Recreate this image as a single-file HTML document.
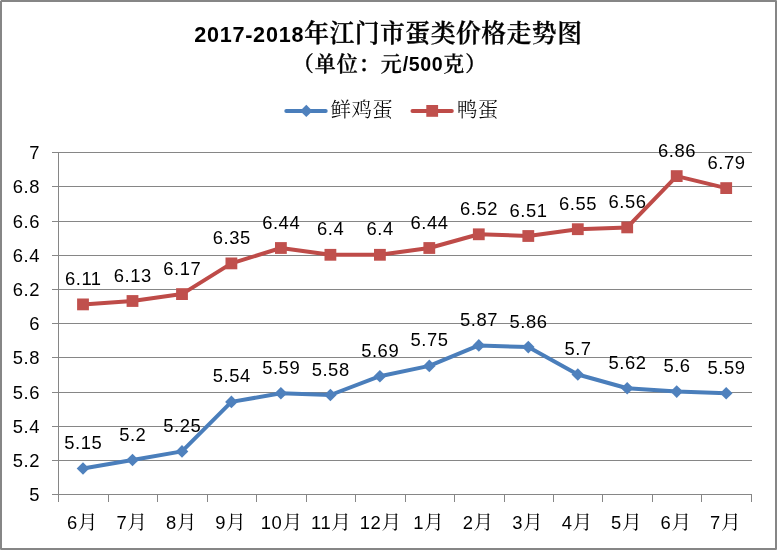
<!DOCTYPE html>
<html lang="zh-CN"><head><meta charset="utf-8"><title>2017-2018年江门市蛋类价格走势图</title>
<style>html,body{margin:0;padding:0;background:#fff;}body{width:777px;height:550px;overflow:hidden;}svg{display:block;}text{fill:#000;}.n{font-family:"Liberation Sans", sans-serif;font-size:18.4px;letter-spacing:0.55px;}.c{font-family:"Liberation Serif","Noto Serif CJK SC","Noto Sans CJK SC",serif;}</style></head><body>
<svg width="777" height="550" viewBox="0 0 777 550">
<rect x="0" y="0" width="777" height="550" fill="#fff"/>
<rect x="1" y="1" width="775" height="548" fill="none" stroke="#868686" stroke-width="2"/>
<rect x="0" y="0" width="1" height="1" fill="#dcdcdc"/><rect x="776" y="0" width="1" height="1" fill="#a8a8a8"/><rect x="0" y="549" width="1" height="1" fill="#a8a8a8"/><rect x="776" y="549" width="1" height="1" fill="#a8a8a8"/>
<g stroke="#868686" stroke-width="1" shape-rendering="crispEdges">
<line x1="52" y1="152.5" x2="752" y2="152.5"/>
<line x1="52" y1="186.5" x2="752" y2="186.5"/>
<line x1="52" y1="221.5" x2="752" y2="221.5"/>
<line x1="52" y1="255.5" x2="752" y2="255.5"/>
<line x1="52" y1="289.5" x2="752" y2="289.5"/>
<line x1="52" y1="323.5" x2="752" y2="323.5"/>
<line x1="52" y1="357.5" x2="752" y2="357.5"/>
<line x1="52" y1="392.5" x2="752" y2="392.5"/>
<line x1="52" y1="426.5" x2="752" y2="426.5"/>
<line x1="52" y1="460.5" x2="752" y2="460.5"/>
<line x1="52" y1="494.5" x2="752" y2="494.5"/>
<line x1="58.5" y1="152" x2="58.5" y2="502"/>
<line x1="108.5" y1="494" x2="108.5" y2="502"/>
<line x1="157.5" y1="494" x2="157.5" y2="502"/>
<line x1="207.5" y1="494" x2="207.5" y2="502"/>
<line x1="256.5" y1="494" x2="256.5" y2="502"/>
<line x1="306.5" y1="494" x2="306.5" y2="502"/>
<line x1="355.5" y1="494" x2="355.5" y2="502"/>
<line x1="405.5" y1="494" x2="405.5" y2="502"/>
<line x1="454.5" y1="494" x2="454.5" y2="502"/>
<line x1="504.5" y1="494" x2="504.5" y2="502"/>
<line x1="553.5" y1="494" x2="553.5" y2="502"/>
<line x1="602.5" y1="494" x2="602.5" y2="502"/>
<line x1="652.5" y1="494" x2="652.5" y2="502"/>
<line x1="701.5" y1="494" x2="701.5" y2="502"/>
<line x1="751.5" y1="494" x2="751.5" y2="502"/>
</g>
<g class="n" text-anchor="end">
<text x="40" y="158.9">7</text>
<text x="40" y="192.9">6.8</text>
<text x="40" y="227.9">6.6</text>
<text x="40" y="261.9">6.4</text>
<text x="40" y="295.9">6.2</text>
<text x="40" y="329.9">6</text>
<text x="40" y="363.9">5.8</text>
<text x="40" y="398.9">5.6</text>
<text x="40" y="432.9">5.4</text>
<text x="40" y="466.9">5.2</text>
<text x="40" y="500.9">5</text>
</g>
<g text-anchor="middle">
<text x="82.2" y="529"><tspan class="n">6</tspan><tspan class="c" font-size="19.8">月</tspan></text>
<text x="131.7" y="529"><tspan class="n">7</tspan><tspan class="c" font-size="19.8">月</tspan></text>
<text x="181.2" y="529"><tspan class="n">8</tspan><tspan class="c" font-size="19.8">月</tspan></text>
<text x="230.6" y="529"><tspan class="n">9</tspan><tspan class="c" font-size="19.8">月</tspan></text>
<text x="281.5" y="529"><tspan class="n">10</tspan><tspan class="c" font-size="19.8">月</tspan></text>
<text x="331.0" y="529"><tspan class="n">11</tspan><tspan class="c" font-size="19.8">月</tspan></text>
<text x="380.5" y="529"><tspan class="n">12</tspan><tspan class="c" font-size="19.8">月</tspan></text>
<text x="428.5" y="529"><tspan class="n">1</tspan><tspan class="c" font-size="19.8">月</tspan></text>
<text x="478.0" y="529"><tspan class="n">2</tspan><tspan class="c" font-size="19.8">月</tspan></text>
<text x="527.5" y="529"><tspan class="n">3</tspan><tspan class="c" font-size="19.8">月</tspan></text>
<text x="577.0" y="529"><tspan class="n">4</tspan><tspan class="c" font-size="19.8">月</tspan></text>
<text x="626.4" y="529"><tspan class="n">5</tspan><tspan class="c" font-size="19.8">月</tspan></text>
<text x="675.9" y="529"><tspan class="n">6</tspan><tspan class="c" font-size="19.8">月</tspan></text>
<text x="725.4" y="529"><tspan class="n">7</tspan><tspan class="c" font-size="19.8">月</tspan></text>
</g>
<polyline points="83.0,304.4 132.5,301.0 182.0,294.1 231.4,263.4 280.9,248.0 330.4,254.8 379.9,254.8 429.3,248.0 478.8,234.3 528.3,236.0 577.8,229.2 627.2,227.4 676.7,176.1 726.2,188.1" fill="none" stroke="#be4b48" stroke-width="4" stroke-linejoin="round" stroke-linecap="round"/>
<rect x="77.1" y="298.5" width="11.8" height="11.8" fill="#c0504d"/>
<rect x="126.6" y="295.1" width="11.8" height="11.8" fill="#c0504d"/>
<rect x="176.1" y="288.2" width="11.8" height="11.8" fill="#c0504d"/>
<rect x="225.5" y="257.5" width="11.8" height="11.8" fill="#c0504d"/>
<rect x="275.0" y="242.1" width="11.8" height="11.8" fill="#c0504d"/>
<rect x="324.5" y="248.9" width="11.8" height="11.8" fill="#c0504d"/>
<rect x="374.0" y="248.9" width="11.8" height="11.8" fill="#c0504d"/>
<rect x="423.4" y="242.1" width="11.8" height="11.8" fill="#c0504d"/>
<rect x="472.9" y="228.4" width="11.8" height="11.8" fill="#c0504d"/>
<rect x="522.4" y="230.1" width="11.8" height="11.8" fill="#c0504d"/>
<rect x="571.9" y="223.3" width="11.8" height="11.8" fill="#c0504d"/>
<rect x="621.3" y="221.5" width="11.8" height="11.8" fill="#c0504d"/>
<rect x="670.8" y="170.2" width="11.8" height="11.8" fill="#c0504d"/>
<rect x="720.3" y="182.2" width="11.8" height="11.8" fill="#c0504d"/>
<polyline points="83.0,468.5 132.5,460.0 182.0,451.4 231.4,401.9 280.9,393.3 330.4,395.0 379.9,376.2 429.3,365.9 478.8,345.4 528.3,347.1 577.8,374.5 627.2,388.2 676.7,391.6 726.2,393.3" fill="none" stroke="#4a7ebb" stroke-width="4" stroke-linejoin="round" stroke-linecap="round"/>
<path d="M83.0 462.2L89.3 468.5L83.0 474.8L76.7 468.5Z" fill="#4f81bd"/>
<path d="M132.5 453.7L138.8 460.0L132.5 466.3L126.2 460.0Z" fill="#4f81bd"/>
<path d="M182.0 445.1L188.3 451.4L182.0 457.8L175.7 451.4Z" fill="#4f81bd"/>
<path d="M231.4 395.6L237.8 401.9L231.4 408.2L225.1 401.9Z" fill="#4f81bd"/>
<path d="M280.9 387.0L287.2 393.3L280.9 399.6L274.6 393.3Z" fill="#4f81bd"/>
<path d="M330.4 388.7L336.7 395.0L330.4 401.3L324.1 395.0Z" fill="#4f81bd"/>
<path d="M379.9 369.9L386.2 376.2L379.9 382.5L373.6 376.2Z" fill="#4f81bd"/>
<path d="M429.3 359.6L435.6 365.9L429.3 372.2L423.0 365.9Z" fill="#4f81bd"/>
<path d="M478.8 339.1L485.1 345.4L478.8 351.7L472.5 345.4Z" fill="#4f81bd"/>
<path d="M528.3 340.8L534.6 347.1L528.3 353.4L522.0 347.1Z" fill="#4f81bd"/>
<path d="M577.8 368.2L584.0 374.5L577.8 380.8L571.5 374.5Z" fill="#4f81bd"/>
<path d="M627.2 381.9L633.5 388.2L627.2 394.5L620.9 388.2Z" fill="#4f81bd"/>
<path d="M676.7 385.3L683.0 391.6L676.7 397.9L670.4 391.6Z" fill="#4f81bd"/>
<path d="M726.2 387.0L732.5 393.3L726.2 399.6L719.9 393.3Z" fill="#4f81bd"/>
<g class="n" text-anchor="middle">
<text x="83.3" y="284.9">6.11</text>
<text x="132.8" y="281.5">6.13</text>
<text x="182.3" y="274.6">6.17</text>
<text x="231.8" y="243.9">6.35</text>
<text x="281.2" y="228.5">6.44</text>
<text x="330.7" y="235.3">6.4</text>
<text x="380.2" y="235.3">6.4</text>
<text x="429.6" y="228.5">6.44</text>
<text x="479.1" y="214.8">6.52</text>
<text x="528.6" y="216.5">6.51</text>
<text x="578.0" y="209.7">6.55</text>
<text x="627.5" y="207.9">6.56</text>
<text x="677.0" y="156.6">6.86</text>
<text x="726.5" y="168.6">6.79</text>
<text x="83.3" y="449.0">5.15</text>
<text x="132.8" y="440.5">5.2</text>
<text x="182.3" y="431.9">5.25</text>
<text x="231.8" y="382.4">5.54</text>
<text x="281.2" y="373.8">5.59</text>
<text x="330.7" y="375.5">5.58</text>
<text x="380.2" y="356.7">5.69</text>
<text x="429.6" y="346.4">5.75</text>
<text x="479.1" y="325.9">5.87</text>
<text x="528.6" y="327.6">5.86</text>
<text x="578.0" y="355.0">5.7</text>
<text x="627.5" y="368.7">5.62</text>
<text x="677.0" y="372.1">5.6</text>
<text x="726.5" y="373.8">5.59</text>
</g>
<line x1="286.3" y1="110.9" x2="325.7" y2="110.9" stroke="#4a7ebb" stroke-width="4" stroke-linecap="round"/>
<path d="M306.3 104.7L312.5 110.9L306.3 117.1L300.1 110.9Z" fill="#4f81bd"/>
<text class="c" x="330.6" y="117" font-size="20.5" letter-spacing="0.3" font-weight="300">鲜鸡蛋</text>
<line x1="412.5" y1="110.9" x2="451.8" y2="110.9" stroke="#be4b48" stroke-width="4" stroke-linecap="round"/>
<rect x="426.3" y="105" width="11.8" height="11.8" fill="#c0504d"/>
<text class="c" x="457" y="117" font-size="20.5" letter-spacing="0.3" font-weight="300">鸭蛋</text>
<text x="388.3" y="42.2" text-anchor="middle"><tspan font-weight="bold" font-family='"Liberation Sans", sans-serif' font-size="21.6" letter-spacing="0.75">2017-2018</tspan><tspan class="c" font-weight="600" stroke="#000" stroke-width="0.3" font-size="24.8" letter-spacing="0.5">年江门市蛋类价格走势图</tspan></text>
<text x="390" y="70.6" text-anchor="middle"><tspan class="c" font-weight="600" stroke="#000" stroke-width="0.3" font-size="21" letter-spacing="1">（单位：元</tspan><tspan font-weight="bold" font-family='"Liberation Sans", sans-serif' font-size="19.6" letter-spacing="0.6">/500</tspan><tspan class="c" font-weight="600" stroke="#000" stroke-width="0.3" font-size="21" letter-spacing="1">克）</tspan></text>
</svg></body></html>
